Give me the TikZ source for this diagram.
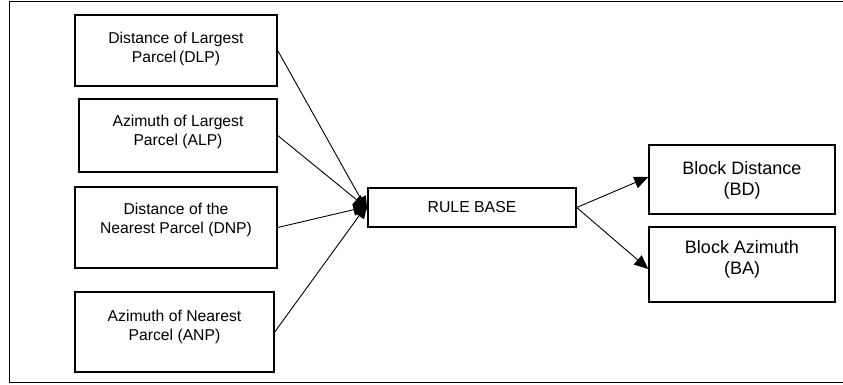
\documentclass[tikz,border=0pt]{standalone}
\usepackage{fontspec}
\setmainfont{Liberation Sans}
\usetikzlibrary{arrows.meta}
\begin{document}
\begin{tikzpicture}[x=1pt,y=-1pt,
  box/.style={draw=black,line width=1.4pt,minimum width=#1,inner sep=0pt},
  intext/.style={align=center,inner sep=0pt,font=\fontsize{15.7}{19}\selectfont},
  outtext/.style={align=center,inner sep=0pt,font=\fontsize{18}{20.5}\selectfont},
  conn/.style={line width=0.9pt,-{Triangle[length=14pt,width=12pt]}}]
\useasboundingbox (0,0) rectangle (843,385);
% frame (its right side lies outside the page)
\draw[line width=1pt] (846,2) -- (9,2) -- (9,382) -- (846,382);

% input boxes
\node[box=202pt,minimum height=71pt] (dlp) at (176,50.5) {};
\node[box=198pt,minimum height=73pt] (alp) at (178,135.5) {};
\node[box=202pt,minimum height=81pt] (dnp) at (176,227.5) {};
\node[box=199pt,minimum height=80pt] (anp) at (174.5,332) {};
\node[intext] (dlpt) at (176,48.5) {Distance of Largest\\Parcel\,(DLP)};
\node[intext] (alpt) at (178,131.5) {Azimuth of Largest\\Parcel (ALP)};
\node[intext] (dnpt) at (176,219.5) {Distance of the\\Nearest Parcel (DNP)};
\node[intext] (anpt) at (174.5,326.5) {Azimuth of Nearest\\Parcel (ANP)};

% rule base
\node[box=208pt,minimum height=39pt,font=\fontsize{15.8}{19}\selectfont] (rb) at (472,207.5) {RULE BASE};

% output boxes
\node[box=186pt,minimum height=69pt] (bd) at (742,179.5) {};
\node[box=186pt,minimum height=75pt] (ba) at (742,264.5) {};
\node[outtext] (bdt) at (742,180.5) {Block Distance\\(BD)};
\node[outtext] (bat) at (742,259.5) {Block Azimuth\\(BA)};

% connectors into the rule base
\draw[conn] (dlp.east) -- ([yshift=-3pt]rb.west);
\draw[conn] (alp.east) -- ([yshift=-1pt]rb.west);
\draw[conn] (dnp.east) -- ([yshift=1pt]rb.west);
\draw[conn] (anp.east) -- ([yshift=3pt]rb.west);
% connectors out of the rule base
\draw[conn] (rb.east) -- ([yshift=2.5pt]bd.west);
\draw[conn] (rb.east) -- ([yshift=-4.5pt]ba.west);
\end{tikzpicture}
\end{document}
